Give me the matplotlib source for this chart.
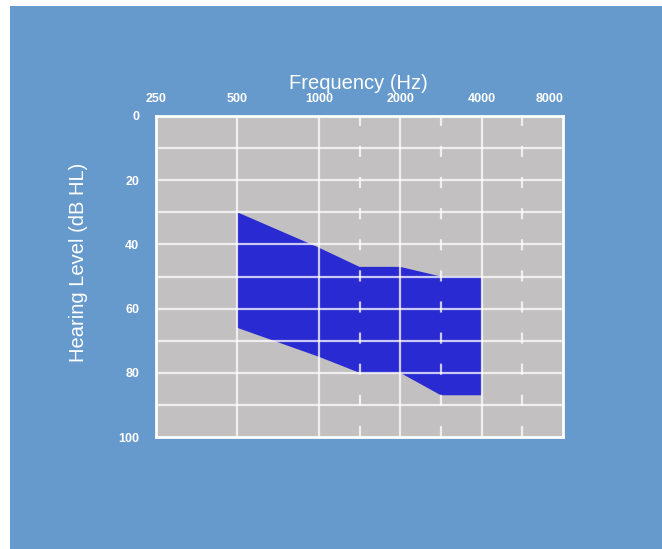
import numpy as np
import matplotlib
matplotlib.use("Agg")
import matplotlib.pyplot as plt
from matplotlib.patches import Rectangle

# ---- data ----
freqs = [500, 1000, 1500, 2000, 3000, 4000]
upper_db = [30, 41, 47, 47, 50, 50]      # mildest edge of the shaded range
lower_db = [66, 75, 80, 80, 87, 87]      # most severe edge of the shaded range
tick_freqs = [250, 500, 1000, 2000, 4000, 8000]
tick_labels = ["250", "500", "1000", "2000", "4000", "8000"]
octave_lines = [500, 1000, 2000, 4000]
half_octave_lines = [1500, 3000, 6000]
db_ticks = [0, 20, 40, 60, 80, 100]
db_grid = [10, 20, 30, 40, 50, 60, 70, 80, 90]

# audiogram frequency axis: octaves equally spaced, half-octaves midway
_std_f = np.array([250, 500, 1000, 1500, 2000, 3000, 4000, 6000, 8000], float)
_std_p = np.array([0, 1, 2, 2.5, 3, 3.5, 4, 4.5, 5], float)
def fwd(f):
    return np.interp(f, _std_f, _std_p, left=-1, right=6)
def inv(p):
    return np.interp(p, _std_p, _std_f)

BG = "#6699cc"
PLOT = "#c2c0c0"
FILL = "#2a2ad2"

fig = plt.figure(figsize=(6.62, 5.49), dpi=100, facecolor="white")
bg = Rectangle((10/662, 0), 1, (549-6)/549, transform=fig.transFigure,
               facecolor=BG, edgecolor="none", zorder=-10)
fig.patches.append(bg)

ax = fig.add_axes([156/662, 1-437/549, 407/662, 321/549])
ax.set_zorder(5)
ax.set_facecolor(PLOT)
ax.set_xscale("function", functions=(fwd, inv))
ax.set_xlim(250, 8000)
ax.set_ylim(100, 0)

# shaded range
xs = freqs + freqs[::-1]
ys = upper_db + lower_db[::-1]
ax.fill(xs, ys, color=FILL, zorder=2, linewidth=0)

# grid lines
for d in db_grid:
    ax.axhline(d, color="white", lw=1.6, alpha=0.75, zorder=3)
for f in octave_lines:
    ax.axvline(f, color="white", lw=1.6, alpha=0.75, zorder=3)
for f in half_octave_lines:
    ax.axvline(f, color="white", lw=1.6, alpha=0.75, zorder=3, dashes=(5, 9))

for s in ax.spines.values():
    s.set_color("white")
    s.set_linewidth(2.0)
    s.set_zorder(4)

ax.xaxis.tick_top()
ax.set_xticks(tick_freqs)
ax.set_xticklabels(tick_labels)
ax.minorticks_off()
ax.set_yticks(db_ticks)
ax.tick_params(axis="both", length=0, colors="white", labelsize=9)
ax.tick_params(axis="x", pad=8)
ax.tick_params(axis="y", pad=12)
for lab in ax.get_xticklabels() + ax.get_yticklabels():
    lab.set_fontweight("bold")
    lab.set_family("Liberation Sans")
ax.get_xticklabels()[-1].set_horizontalalignment("right")

fig.text(358/662, 1-84/549, "Frequency (Hz)", color="white", fontsize=14.5,
         ha="center", va="center", family="Liberation Sans")
fig.text(78/662, 1-262/549, "Hearing Level (dB HL)", color="white", fontsize=14.5,
         ha="center", va="center", rotation=90, family="Liberation Sans")

fig.savefig("out.png", dpi=100, facecolor="white")
